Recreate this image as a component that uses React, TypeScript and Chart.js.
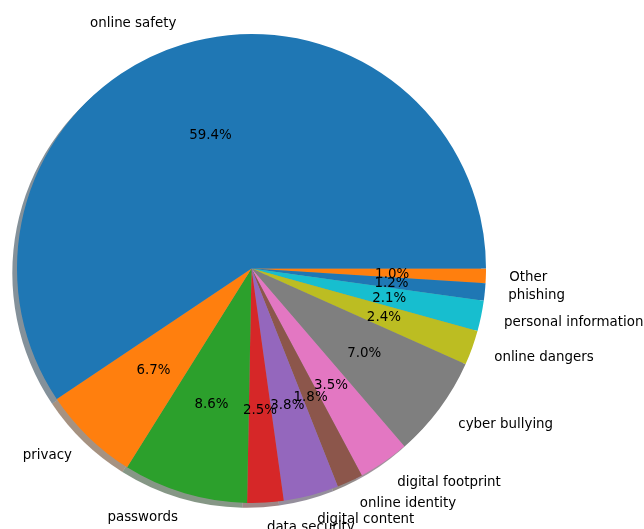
import React, { useEffect, useRef } from "react";
import { Chart, registerables } from "chart.js";

Chart.register(...registerables);

// Data in the original (counter-clockwise from 3 o'clock) order
const categories = [
  "online safety",
  "privacy",
  "passwords",
  "data security",
  "digital content",
  "online identity",
  "digital footprint",
  "cyber bullying",
  "online dangers",
  "personal information",
  "phishing",
  "Other",
];
const values = [59.4, 6.7, 8.6, 2.5, 3.8, 1.8, 3.5, 7.0, 2.4, 2.1, 1.2, 1.0];
const tab10 = [
  "#1f77b4", "#ff7f0e", "#2ca02c", "#d62728", "#9467bd",
  "#8c564b", "#e377c2", "#7f7f7f", "#bcbd22", "#17becf",
];
const colors = categories.map((_, i) => tab10[i % 10]);

const FONT = '13.4px "DejaVu Sans"';
const TEXT_DY = 1.3;

function hexToRgb(h: string) {
  const n = parseInt(h.slice(1), 16);
  return [(n >> 16) & 255, (n >> 8) & 255, n & 255];
}

const pieDecor = {
  id: "pieDecor",
  beforeDatasetsDraw(chart: any) {
    const ctx = chart.ctx;
    const meta = chart.getDatasetMeta(0);
    const cols = chart.data.datasets[0].backgroundColor as string[];
    ctx.save();
    meta.data.forEach((arc: any, i: number) => {
      const { x, y, startAngle, endAngle, outerRadius } = arc.getProps(
        ["x", "y", "startAngle", "endAngle", "outerRadius"], true
      );
      const off = outerRadius * 0.02;
      const [r, g, b] = hexToRgb(cols[i]);
      ctx.fillStyle = `rgba(${Math.round(r * 0.3)},${Math.round(g * 0.3)},${Math.round(b * 0.3)},0.5)`;
      ctx.beginPath();
      ctx.moveTo(x - off, y + off);
      ctx.arc(x - off, y + off, outerRadius, startAngle, endAngle);
      ctx.closePath();
      ctx.fill();
    });
    ctx.restore();
  },
  afterDatasetsDraw(chart: any) {
    const ctx = chart.ctx;
    const meta = chart.getDatasetMeta(0);
    const data = chart.data.datasets[0].data as number[];
    const labels = chart.data.labels as string[];
    const total = data.reduce((a, b) => a + b, 0);
    ctx.save();
    ctx.font = FONT;
    ctx.fillStyle = "#000";
    ctx.textBaseline = "middle";
    meta.data.forEach((arc: any, i: number) => {
      const { x, y, startAngle, endAngle, outerRadius } = arc.getProps(
        ["x", "y", "startAngle", "endAngle", "outerRadius"], true
      );
      const a = (startAngle + endAngle) / 2;
      const c = Math.cos(a), s = Math.sin(a);
      const lx = x + c * outerRadius * 1.1;
      const ly = y + s * outerRadius * 1.1 + TEXT_DY;
      ctx.textAlign = c > 0 ? "left" : "right";
      ctx.fillText(labels[i], lx, ly);
      const px = x + c * outerRadius * 0.6;
      const py = y + s * outerRadius * 0.6 + TEXT_DY;
      ctx.textAlign = "center";
      ctx.fillText(((data[i] / total) * 100).toFixed(1) + "%", px, py);
    });
    ctx.restore();
  },
};

export default function App() {
  const ref = useRef<HTMLCanvasElement>(null);
  useEffect(() => {
    if (!ref.current) return;
    // Chart.js draws clockwise, so reverse to mimic counter-clockwise order
    const labs = [...categories].reverse();
    const vals = [...values].reverse();
    const cols = [...colors].reverse();
    const chart = new Chart(ref.current, {
      type: "pie",
      data: {
        labels: labs,
        datasets: [
          {
            data: vals,
            backgroundColor: cols,
            borderWidth: 0,
            hoverOffset: 0,
          },
        ],
      },
      options: {
        responsive: false,
        animation: false,
        rotation: 90,
        layout: { padding: { left: 17, right: 158, top: 34, bottom: 26 } },
        plugins: {
          legend: { display: false },
          tooltip: { enabled: false },
        },
      },
      plugins: [pieDecor],
    });
    return () => chart.destroy();
  }, []);
  return (
    <div style={{ position: "fixed", left: 0, top: 0, width: 644, height: 529, background: "#fff" }}>
      <canvas ref={ref} width={644} height={529} style={{ width: 644, height: 529 }} />
    </div>
  );
}
